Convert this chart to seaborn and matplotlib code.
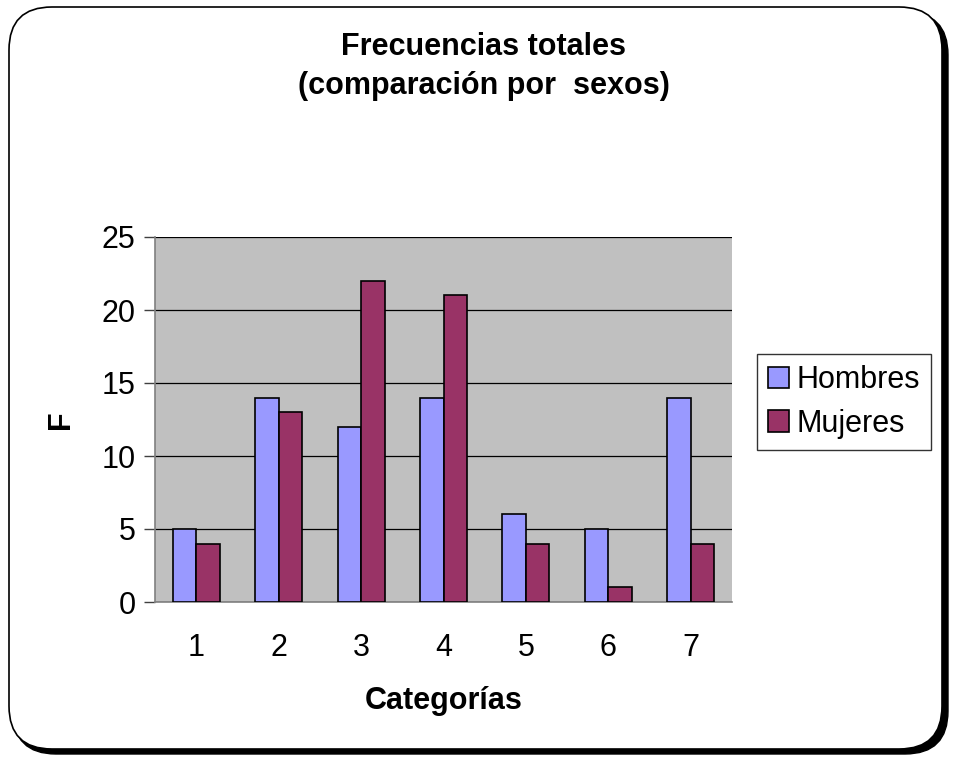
import pandas as pd
import matplotlib.pyplot as plt
import seaborn as sns
from matplotlib.patches import FancyBboxPatch

# Data
categorias = ["1", "2", "3", "4", "5", "6", "7"]
hombres = [5, 14, 12, 14, 6, 5, 14]
mujeres = [4, 13, 22, 21, 4, 1, 4]
y_ticks = [0, 5, 10, 15, 20, 25]

df = pd.DataFrame({
    "Categoría": categorias * 2,
    "F": hombres + mujeres,
    "Sexo": ["Hombres"] * len(categorias) + ["Mujeres"] * len(categorias),
})

sns.set_style("white")
plt.rcParams["font.family"] = ["Liberation Sans", "DejaVu Sans"]
plt.rcParams["text.color"] = "black"
plt.rcParams["xtick.color"] = "black"
plt.rcParams["ytick.color"] = "black"
plt.rcParams["axes.labelcolor"] = "black"

fig = plt.figure(figsize=(9.54, 7.57), dpi=100)

# rounded frame with shadow
shadow = FancyBboxPatch((13 / 954, 3 / 757), 935 / 954, 742 / 757,
                        boxstyle="round,pad=0,rounding_size=0.045",
                        transform=fig.transFigure, facecolor="black",
                        edgecolor="black", lw=1, zorder=0,
                        mutation_aspect=954 / 757)
frame = FancyBboxPatch((9 / 954, 8 / 757), 933 / 954, 742 / 757,
                       boxstyle="round,pad=0,rounding_size=0.045",
                       transform=fig.transFigure, facecolor="white",
                       edgecolor="black", lw=1.2, zorder=1,
                       mutation_aspect=954 / 757)
fig.patches.extend([shadow, frame])

ax = fig.add_axes([155 / 954, 155 / 757, 577 / 954, 365 / 757])
ax.set_zorder(2)
sns.barplot(data=df, x="Categoría", y="F", hue="Sexo",
            palette={"Hombres": "#9999FF", "Mujeres": "#993366"},
            width=0.57, edgecolor="black", linewidth=1.2,
            saturation=1, ax=ax, zorder=3)

ax.set_facecolor("#C0C0C0")
ax.set_ylim(0, 25)
ax.set_xlim(-0.5, 6.5)
ax.set_yticks(y_ticks)
ax.yaxis.grid(True, color="black", lw=0.9)
ax.set_axisbelow(True)
for s in ["top", "right"]:
    ax.spines[s].set_visible(False)
ax.spines["left"].set_color("#808080")
ax.spines["bottom"].set_color("#808080")
ax.spines["left"].set_linewidth(1.2)
ax.spines["bottom"].set_linewidth(1.2)

# tick marks between categories, labels centred
ax.set_xticks([i + 0.5 for i in range(-1, 7)], minor=True)
ax.tick_params(axis="x", which="minor", length=8, width=1, color="#404040")
ax.tick_params(axis="x", which="major", length=0, labelsize=22, pad=22)
ax.tick_params(axis="y", length=8, width=1, color="#404040", labelsize=22, pad=6,
               left=True)

ax.set_xlabel("Categorías", fontsize=22, fontweight="bold", labelpad=17)
ax.set_ylabel("F", fontsize=22, fontweight="bold", labelpad=18)

leg = ax.legend(loc="center left", bbox_to_anchor=(1.043, 0.548), fontsize=22,
                frameon=True, fancybox=False, edgecolor="black",
                handlelength=0.7, handleheight=0.7, handletextpad=0.25,
                borderpad=0.35, labelspacing=0.45, borderaxespad=0)
leg.get_frame().set_linewidth(1)

fig.text(0.507, 0.912, "Frecuencias totales\n(comparación por  sexos)",
         ha="center", va="center", fontsize=22, fontweight="bold",
         linespacing=1.4, zorder=3)

plt.savefig("out.png", dpi=100)
plt.close()
